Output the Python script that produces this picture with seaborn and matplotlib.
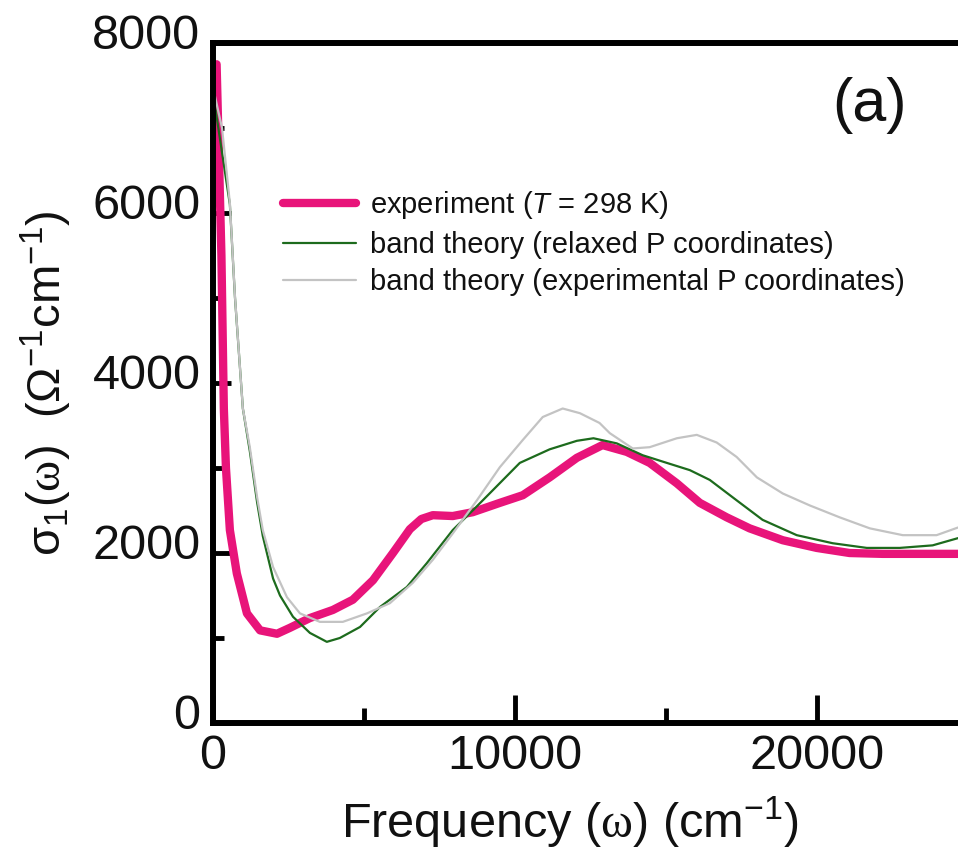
import matplotlib
matplotlib.use("Agg")
import matplotlib.pyplot as plt
from matplotlib.ticker import MultipleLocator
from matplotlib.transforms import ScaledTranslation
import seaborn as sns

# experiment (T = 298 K)
freq_exp = [120, 280, 360, 430, 560, 790, 1125, 1560, 2120, 2550, 3210, 3970,
            4630, 5300, 5960, 6520, 6900, 7280, 7940, 8600, 9500, 10260, 11150,
            12050, 12900, 13700, 14460, 15360, 16120, 17010, 17770, 18870,
            19990, 21080, 22180, 23300, 24670]
sigma_exp = [7750, 5500, 3700, 3000, 2270, 1760, 1290, 1090, 1050, 1120, 1235,
             1330, 1450, 1680, 2000, 2280, 2400, 2445, 2435, 2480, 2590, 2680,
             2890, 3120, 3270, 3190, 3060, 2820, 2590, 2420, 2290, 2150, 2060,
             2000, 1990, 1990, 1990]

# band theory (relaxed P coordinates)
freq_rel = [50, 560, 730, 990, 1220, 1460, 1650, 1990, 2220, 2650, 3210, 3770,
            4200, 4870, 5530, 6420, 7080, 7940, 8600, 9270, 10160, 11150,
            12050, 12600, 13370, 14230, 15030, 15790, 16450, 17340, 18200,
            19330, 20520, 21650, 22740, 23830, 24670]
sigma_rel = [7300, 6100, 5000, 3700, 3200, 2600, 2200, 1700, 1500, 1250, 1060,
             955, 1000, 1130, 1365, 1600, 1880, 2270, 2500, 2740, 3060, 3220,
             3320, 3350, 3290, 3150, 3060, 2975, 2860, 2620, 2390, 2210, 2115,
             2060, 2060, 2090, 2175]

# band theory (experimental P coordinates)
freq_expP = [50, 300, 560, 730, 990, 1220, 1460, 1650, 1990, 2450, 2880, 3540,
             4300, 5100, 5860, 6620, 7280, 7940, 8740, 9500, 10260, 10920,
             11580, 12150, 12800, 13140, 13900, 14460, 15360, 16020, 16680,
             17340, 18010, 18870, 19760, 20750, 21750, 22840, 23960, 24670]
sigma_expP = [7400, 7000, 6115, 5010, 3700, 3245, 2660, 2270, 1835, 1480, 1290,
              1190, 1190, 1290, 1410, 1650, 1920, 2230, 2620, 3010, 3330, 3600,
              3700, 3645, 3530, 3410, 3230, 3245, 3350, 3390, 3300, 3130, 2890,
              2700, 2560, 2420, 2290, 2210, 2210, 2300]

labels = ['experiment ($\\mathit{T}$ = 298 K)',
          'band theory (relaxed P coordinates)',
          'band theory (experimental P coordinates)']

sns.set_style("ticks")
plt.rcParams['font.family'] = ['Liberation Sans', 'DejaVu Sans']
plt.rcParams['text.color'] = '#111111'
plt.rcParams['axes.labelcolor'] = '#111111'
plt.rcParams['mathtext.fontset'] = 'custom'
plt.rcParams['mathtext.rm'] = 'Liberation Sans'
plt.rcParams['mathtext.it'] = 'Liberation Sans:italic'
plt.rcParams['mathtext.sf'] = 'Liberation Serif'

fig = plt.figure(figsize=(9.58, 8.5), dpi=100)
ax = fig.add_axes([0.2223, 0.1494, 0.7881, 0.8])

sns.lineplot(x=freq_exp, y=sigma_exp, color='#e8147a', linewidth=6,
             estimator=None, sort=False, label=labels[0], ax=ax)
sns.lineplot(x=freq_rel, y=sigma_rel, color='#1d6b1d', linewidth=1.6,
             estimator=None, sort=False, label=labels[1], ax=ax)
sns.lineplot(x=freq_expP, y=sigma_expP, color='#c3c3c3', linewidth=1.6,
             estimator=None, sort=False, label=labels[2], ax=ax)

ax.set_xlim(0, 25000)
ax.set_ylim(0, 8000)
ax.xaxis.set_major_locator(MultipleLocator(10000))
ax.xaxis.set_minor_locator(MultipleLocator(5000))
ax.yaxis.set_major_locator(MultipleLocator(2000))
ax.yaxis.set_minor_locator(MultipleLocator(1000))

for sp in ax.spines.values():
    sp.set_linewidth(4.3)
    sp.set_color('black')

ax.tick_params(axis='both', which='both', direction='in', top=False, right=False,
               width=3.5, labelsize=35, color='black', labelcolor='#111111')
ax.tick_params(axis='x', which='major', length=20, pad=8)
ax.tick_params(axis='x', which='minor', length=11)
ax.tick_params(axis='y', which='major', length=13, pad=9)
ax.tick_params(axis='y', which='minor', length=8)

# y tick labels sit a bit above their ticks in the original
for t in ax.yaxis.get_major_ticks():
    t.label1.set_transform(t.label1.get_transform()
                           + ScaledTranslation(0, 8 / 72, fig.dpi_scale_trans))

ax.set_xlabel('Frequency ($\\mathsf{\\omega}$) (cm$^{-1}$)', fontsize=35)
ax.xaxis.label.set_va('baseline')
ax.xaxis.set_label_coords(0.473, -(838 - 723) / 680)
ax.set_ylabel('$\\mathrm{\\sigma_1}$($\\mathsf{\\omega}$)  ($\\Omega^{-1}$cm$^{-1}$)',
              fontsize=34, labelpad=13)

h, l = ax.get_legend_handles_labels()
order = [l.index(s) for s in labels]
ax.legend([h[i] for i in order], [l[i] for i in order], loc='upper left',
          bbox_to_anchor=(0.0927, 0.785), frameon=False, fontsize=21,
          borderaxespad=0, borderpad=0, handlelength=2.5, handletextpad=0.5,
          labelspacing=0.33)

fig.text(870 / 958, 1 - 105 / 850, '(a)', fontsize=44, ha='center', va='center')

fig.savefig('out.png', dpi=100)
